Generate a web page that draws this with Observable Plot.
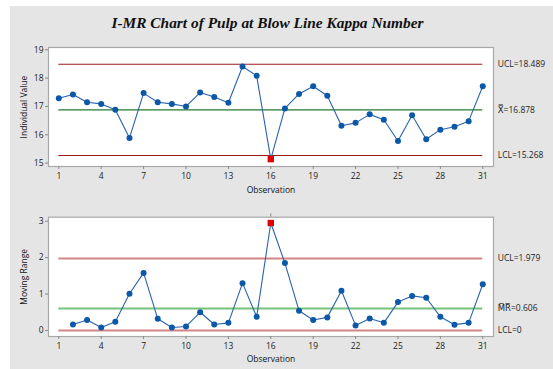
<!DOCTYPE html>
<html><head><meta charset="utf-8">
<script src="https://cdn.jsdelivr.net/npm/d3@7"></script>
<script src="https://cdn.jsdelivr.net/npm/@observablehq/plot@0.6"></script>
<style>
html,body{margin:0;padding:0;background:#fff;}
#wrap{position:relative;width:553px;height:369px;overflow:hidden;background:#fff;}
#bg{position:absolute;left:10px;top:6px;width:543px;height:363px;background:#e5e5e5;}
#title{position:absolute;left:0;width:535px;top:14px;text-align:center;font-family:"Liberation Serif",serif;font-weight:bold;font-style:italic;font-size:15.4px;color:#111;}
#top,#bot{position:absolute;left:0;}
#top{top:0;} #bot{top:200px;}
svg{overflow:visible;}
</style></head><body>
<div id="wrap"><div id="bg"></div><div id="title">I-MR Chart of Pulp at Blow Line Kappa Number</div><div id="top"></div><div id="bot"></div></div>
<script>
const observations = Array.from({length:31},(_,i)=>i+1);
const individualValues = [17.29,17.42,17.15,17.09,16.88,15.89,17.47,17.15,17.09,17.00,17.49,17.33,17.13,18.41,18.08,15.14,16.93,17.44,17.71,17.38,16.32,16.42,16.72,16.53,15.78,16.69,15.84,16.18,16.28,16.48,17.71];
const movingRanges = [null,0.165,0.29,0.08,0.24,1.01,1.58,0.32,0.08,0.11,0.50,0.165,0.21,1.30,0.375,2.95,1.85,0.54,0.29,0.36,1.09,0.14,0.33,0.21,0.78,0.95,0.90,0.375,0.16,0.21,1.27];
const xTicks = [1,4,7,10,13,16,19,22,25,28,31];
const iTicks = [15,16,17,18,19];
const mrTicks = [0,1,2,3];
const iLimits = {ucl:18.489, center:16.878, lcl:15.268};
const mrLimits = {ucl:1.979, center:0.606, lcl:0};
const outOfControl = [16];

const FONT = "'Open Sans', 'DejaVu Sans', sans-serif";
const iData = observations.map((o,i)=>({o, v:individualValues[i]}));
const mrData = observations.map((o,i)=>({o, v:movingRanges[i]})).filter(d=>d.v!=null);

function panel({data, yDomain, yTicks, limits, ylabel, height, mt, mb, labels, red, green, lw, extra}) {
  const lim = [
    {y:limits.ucl, c:red, t:labels[0]},
    {y:limits.center, c:green, t:labels[1]},
    {y:limits.lcl, c:red, t:labels[2]}
  ];
  return Plot.plot({
    width:553, height, marginLeft:48, marginRight:60, marginTop:mt, marginBottom:mb,
    style:{background:"transparent", fontFamily:FONT, fontSize:"8.5px", color:"#222"},
    x:{domain:[0.27,31.76]},
    y:{domain:yDomain},
    marks:[
      Plot.frame({fill:"white", stroke:"#a8a8a8", strokeWidth:1.2}),
      Plot.axisX({ticks:xTicks, tickFormat:"d", tickSize:3, tickPadding:3, stroke:"#888", label:null, fontSize:8.5, fill:"#222"}),
      Plot.axisY({ticks:yTicks, tickFormat:"d", tickSize:3, tickPadding:2, stroke:"#888", label:null, fontSize:8.5, fill:"#222"}),
      Plot.text(["Observation"], {frameAnchor:"bottom", dy: mb-8, fontSize:8.5, fill:"#111", fontWeight:500}),
      Plot.text([ylabel], {frameAnchor:"left", textAnchor:"middle", dx:-24, rotate:-90, fontSize:8.5, fill:"#111"}),
      ...lim.map(l=>Plot.ruleY([l.y], {x1:1, x2:31, stroke:l.c, strokeWidth:lw})),
      Plot.text(lim, {x:31, y:"y", text:"t", dx:15, textAnchor:"start", fontSize:8.5, fill:"#222"}),
      Plot.line(data, {x:"o", y:"v", stroke:"#2a62b0", strokeWidth:1.1}),
      Plot.dot(data.filter(d=>!outOfControl.includes(d.o)), {x:"o", y:"v", r:3, fill:"#0b58a8", stroke:"none"}),
      Plot.dot(data.filter(d=>outOfControl.includes(d.o)), {x:"o", y:"v", symbol:"square", r:3.6, fill:"#e00000", stroke:"none"}),
      ...(extra||[])
    ]
  });
}

document.getElementById("top").append(panel({
  data:iData, yDomain:[14.88,19.08], yTicks:iTicks, limits:iLimits, ylabel:"Individual Value",
  height:200, mt:47, mb:34, labels:["UCL=18.489","X\u033F=16.878","LCL=15.268"],
  red:"#9e1a1a", green:"#23782f", lw:1.2
}));
document.getElementById("bot").append(panel({
  data:mrData, yDomain:[-0.165,3.11], yTicks:mrTicks, limits:mrLimits, ylabel:"Moving Range",
  height:169, mt:16.7, mb:33, labels:["UCL=1.979","M\u0305R\u0305=0.606","LCL=0"],
  red:"#d38585", green:"#76c27a", lw:2,
  extra:[Plot.ruleX(outOfControl, {x:d=>d, y1:3.11, y2:3.2, stroke:"#888", strokeWidth:1})]
}));
</script></body></html>
